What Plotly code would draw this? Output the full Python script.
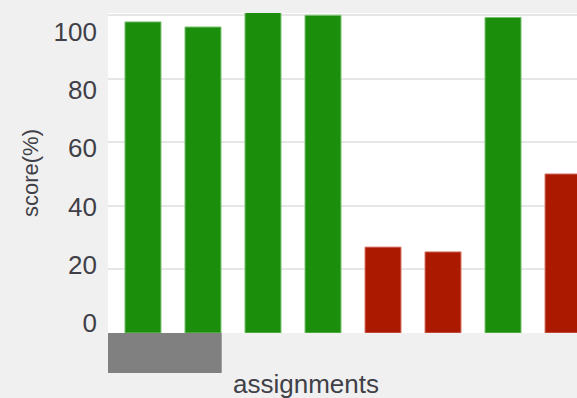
import plotly.graph_objects as go

# Assignment scores (percent)
assignments = ["A1", "A2", "A3", "A4", "A5", "A6", "A7", "A8"]
scores = [97.8, 96.2, 101.4, 99.9, 27.0, 25.5, 99.2, 50.0]
tick_values = [0, 20, 40, 60, 80, 100]

PASS_MARK = 60
GREEN = "#1b8f0c"
RED = "#aa1900"
colors = [GREEN if s >= PASS_MARK else RED for s in scores]
edges = ["#7cc274" if s >= PASS_MARK else "#d9786a" for s in scores]

fig = go.Figure()
fig.add_trace(go.Bar(
    x=assignments,
    y=scores,
    width=0.6,
    marker=dict(color=colors, line=dict(color=edges, width=1)),
    cliponaxis=False,
    showlegend=False,
    hoverinfo="x+y",
))
# empty trace so the label axis is drawn
fig.add_trace(go.Scatter(
    x=[], y=[], yaxis="y2", mode="markers",
    showlegend=False, hoverinfo="skip",
))

fig.update_layout(
    width=577,
    height=398,
    margin=dict(l=108, r=0, t=13, b=65),
    paper_bgcolor="#f0f0f0",
    plot_bgcolor="#ffffff",
    font=dict(family="Liberation Sans, Arial, sans-serif", color="#404048"),
    bargap=0.4,
    xaxis=dict(
        type="category",
        range=[-0.583, 7.233],
        showticklabels=False,
        showgrid=False,
        zeroline=False,
        showline=False,
    ),
    yaxis=dict(
        range=[0, 100.6],
        tickvals=tick_values,
        showticklabels=False,
        showgrid=True,
        gridcolor="#e6e6e6",
        gridwidth=2,
        zeroline=False,
        showline=False,
    ),
    # label axis: carries the numbers and the title
    yaxis2=dict(
        overlaying="y",
        side="left",
        range=[-3.44, 106.5],
        tickvals=tick_values,
        ticktext=[str(v) for v in tick_values],
        showgrid=False,
        zeroline=False,
        showline=False,
        ticks="",
        ticklabelstandoff=10,
        tickfont=dict(size=26, color="#404048"),
        title=dict(text="score(%)", font=dict(size=22, color="#404048"), standoff=8),
    ),
    shapes=[
        dict(
            type="rect",
            xref="paper", yref="paper",
            x0=0, x1=(221.7 - 108) / 469,
            y0=-40 / 320, y1=0,
            fillcolor="#808080",
            line=dict(width=0),
            layer="above",
        ),
    ],
    annotations=[
        dict(
            text="assignments",
            xref="paper", yref="paper",
            x=(306 - 108) / 469, y=-34 / 320,
            xanchor="center", yanchor="top",
            showarrow=False,
            font=dict(size=26, color="#404048"),
        ),
    ],
)

fig.write_html("out.html")
